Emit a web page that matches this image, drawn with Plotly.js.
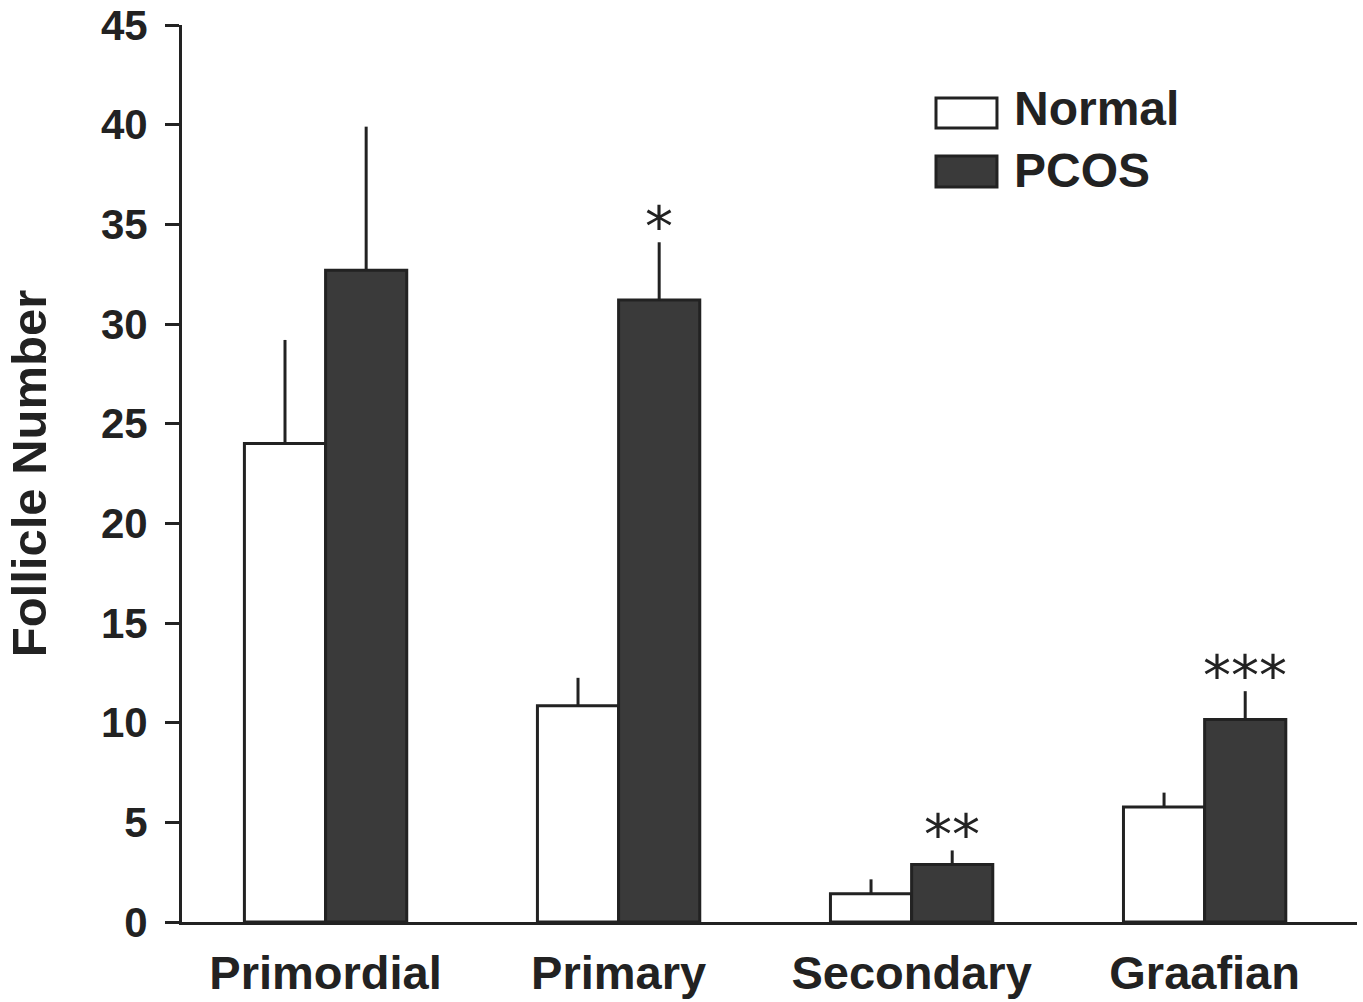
<!DOCTYPE html>
<html>
<head>
<meta charset="utf-8">
<script src="https://cdn.plot.ly/plotly-3.0.1.min.js"></script>
<style>
  html, body { margin: 0; padding: 0; background: #fff; }
  #chart { width: 1363px; height: 1002px; }
</style>
</head>
<body>
<div id="chart"></div>
<script>
// ---- data ----
const categories = ["Primordial", "Primary", "Secondary", "Graafian"];
const seriesNames = ["Normal", "PCOS"];
const normalMean = [24.0, 10.85, 1.42, 5.77];
const normalErr  = [5.2, 1.4, 0.72, 0.72];
const pcosMean   = [32.7, 31.2, 2.88, 10.16];
const pcosErr    = [7.2, 2.9, 0.71, 1.42];
const significance = ["", "*", "**", "***"];
const yTicks = [0, 5, 10, 15, 20, 25, 30, 35, 40, 45];

const INK = "#222222";
const DARK = "#3a3a3a";
const SANS = "Liberation Sans, Arial, Helvetica, sans-serif";

const errStyle = (arr) => ({
  type: "data", symmetric: false, array: arr,
  arrayminus: arr.map(() => 0), width: 0, thickness: 3, color: INK, visible: true
});

const traces = [
  {
    type: "bar", name: seriesNames[0], x: categories, y: normalMean,
    marker: { color: "#ffffff", line: { color: INK, width: 3 } },
    error_y: errStyle(normalErr), hoverinfo: "skip"
  },
  {
    type: "bar", name: seriesNames[1], x: categories, y: pcosMean,
    marker: { color: DARK, line: { color: INK, width: 3 } },
    error_y: errStyle(pcosErr), hoverinfo: "skip"
  }
];

const bargap = 0.446;
const barOffset = (1 - bargap) / 4; // centre of the second bar in a group

const annotations = [];
categories.forEach((c, i) => {
  if (!significance[i]) return;
  annotations.push({
    x: i + barOffset, y: pcosMean[i] + pcosErr[i], xref: "x", yref: "y",
    text: significance[i],
    showarrow: false, yanchor: "middle", xanchor: "center", yshift: 16,
    font: { family: "DejaVu Sans, sans-serif", size: 56, color: INK }
  });
});

// legend drawn with shapes + text
const legendBoxes = [
  { fill: "#ffffff", y0: 0.8852, y1: 0.9186, ty: 0.9064 },
  { fill: DARK, y0: 0.8194, y1: 0.8540, ty: 0.8380 }
];
const shapes = [];
legendBoxes.forEach((b, k) => {
  shapes.push({
    type: "rect", xref: "paper", yref: "paper",
    x0: 0.6417, x1: 0.6936, y0: b.y0, y1: b.y1,
    fillcolor: b.fill, line: { color: INK, width: 3 }
  });
  annotations.push({
    xref: "paper", yref: "paper", x: 0.706, y: b.ty,
    xanchor: "left", yanchor: "middle", showarrow: false,
    text: seriesNames[k],
    font: { family: SANS, size: 48, color: INK, weight: "bold" }
  });
});

const layout = {
  width: 1363, height: 1002,
  margin: { l: 182, r: 6, t: 25, b: 80 },
  paper_bgcolor: "#ffffff", plot_bgcolor: "#ffffff",
  showlegend: false,
  barmode: "group", bargap: bargap, bargroupgap: 0,
  xaxis: {
    type: "category", range: [-0.49, 3.52],
    showline: true, linecolor: INK, linewidth: 3,
    ticks: "", showgrid: false, zeroline: false,
    ticklabelstandoff: 8,
    tickfont: { family: SANS, size: 47, color: INK, weight: "bold" }
  },
  yaxis: {
    range: [0, 45], tickvals: yTicks, ticktext: yTicks.map(String),
    showline: true, linecolor: INK, linewidth: 3,
    ticks: "outside", ticklen: 14, tickwidth: 3, tickcolor: INK,
    showgrid: false, zeroline: false,
    ticklabelstandoff: 9,
    tickfont: { family: SANS, size: 42, color: INK, weight: "bold" },
    title: {
      text: "Follicle Number", standoff: 39,
      font: { family: SANS, size: 49, color: INK, weight: "bold" }
    }
  },
  shapes: shapes,
  annotations: annotations
};

Plotly.newPlot("chart", traces, layout, { staticPlot: true, displayModeBar: false });
</script>
</body>
</html>
